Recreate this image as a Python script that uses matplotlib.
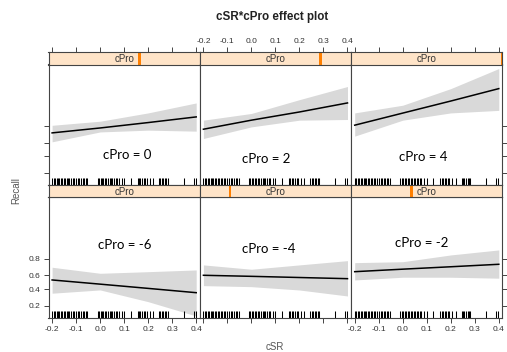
import numpy as np
import matplotlib.pyplot as plt
from matplotlib.ticker import NullLocator
from matplotlib.patches import Rectangle

# values (probability scale, logit axis)
csr = [-0.2, 0.0, 0.2, 0.4]
cpro = [-6, -4, -2, 0, 2, 4]

fit = {
    -6: [0.534, 0.472, 0.410, 0.350],
    -4: [0.602, 0.587, 0.570, 0.553],
    -2: [0.652, 0.685, 0.715, 0.744],
    0: [0.728, 0.782, 0.832, 0.874],
    2: [0.769, 0.851, 0.903, 0.941],
    4: [0.809, 0.897, 0.947, 0.974],
}
lower = {
    -6: [0.343, 0.388, 0.240, 0.119],
    -4: [0.450, 0.435, 0.387, 0.307],
    -2: [0.534, 0.574, 0.574, 0.560],
    0: [0.611, 0.739, 0.759, 0.748],
    2: [0.657, 0.793, 0.851, 0.856],
    4: [0.688, 0.851, 0.898, 0.911],
}
upper = {
    -6: [0.709, 0.630, 0.652, 0.675],
    -4: [0.737, 0.684, 0.737, 0.783],
    -2: [0.762, 0.772, 0.835, 0.872],
    0: [0.808, 0.843, 0.898, 0.941],
    2: [0.851, 0.895, 0.951, 0.977],
    4: [0.898, 0.933, 0.974, 0.992],
}

# observed cSR values (rug)
rug = [-0.200, -0.193, -0.188, -0.181, -0.175, -0.170, -0.163, -0.158, -0.152,
       -0.146, -0.140, -0.134, -0.128, -0.121, -0.115, -0.108, -0.100, -0.092,
       -0.086, -0.079, -0.072, -0.066, -0.060, -0.053,
       -0.010, -0.004, 0.002, 0.008, 0.014, 0.020, 0.026, 0.033, 0.040, 0.047,
       0.051, 0.058, 0.065, 0.072, 0.078, 0.090, 0.100, 0.128,
       0.156, 0.162, 0.168, 0.175, 0.181, 0.188, 0.194, 0.206, 0.220,
       0.245, 0.251, 0.257, 0.263, 0.270, 0.276, 0.281, 0.348, 0.390, 0.398]

xticks = [-0.2, -0.1, 0.0, 0.1, 0.2, 0.3, 0.4]
yticks = [0.2, 0.4, 0.6, 0.8]

W, H = 507, 352
fig = plt.figure(figsize=(W / 100, H / 100), dpi=100)
plt.rcParams['font.family'] = ['Liberation Sans', 'DejaVu Sans']

axcol = '#444444'
txtcol = '#333333'
x0 = 48.5
pw = 151.3
rows = {0: (52, 64.5, 185), 1: (185, 197, 318)}  # strip top, panel top, panel bottom
layout = [[0, 2, 4], [-6, -4, -2]]


def fx(px):
    return px / W


def fy(py):
    return 1 - py / H


for r in range(2):
    st, pt, pb = rows[r]
    for c in range(3):
        v = layout[r][c]
        left = x0 + c * pw
        ax = fig.add_axes([fx(left), fy(pb), pw / W, (pb - pt) / H])
        sx = fig.add_axes([fx(left), fy(pt), pw / W, (pt - st) / H])

        # band + fitted line
        ax.fill_between(csr, lower[v], upper[v], color='#d9d9d9', lw=0)
        ax.plot(csr, fit[v], color='black', lw=1.1)
        ax.vlines(rug, 0, 0.055, transform=ax.get_xaxis_transform(), color='black', lw=0.75)
        ax.set_yscale('logit')
        ax.yaxis.set_minor_locator(NullLocator())
        ax.set_xlim(-0.215, 0.415)
        ax.set_ylim(0.107, 0.9937)
        ax.set_xticks(xticks)
        ax.set_yticks(yticks)
        ax.set_yticklabels([str(t) for t in yticks])
        ax.set_xticklabels(['%.1f' % t for t in xticks])
        for s in ax.spines.values():
            s.set_color(axcol)
            s.set_linewidth(0.8)
        ax.tick_params(direction='out', length=3.5, width=0.7, color=axcol,
                       labelsize=6, labelcolor=txtcol, pad=2)
        ax.tick_params(axis='x', bottom=(r == 1), labelbottom=(r == 1 and c != 1))
        ax.tick_params(axis='y', left=(c == 0), labelleft=(c == 0 and r == 1),
                       right=(c == 2), labelright=False)

        # strip
        sx.set_xlim(-0.215, 0.415)
        sx.set_ylim(0, 1)
        sx.set_facecolor('#ffe4c8')
        frac = (v - min(cpro)) / (max(cpro) - min(cpro))
        sx.add_patch(Rectangle((frac - 0.009, 0), 0.018, 1, transform=sx.transAxes,
                               color='#ff7f00', lw=0, clip_on=True))
        sx.text(0.5, 0.45, 'cPro', transform=sx.transAxes, ha='center', va='center',
                fontsize=7, color=txtcol)
        for s in sx.spines.values():
            s.set_color(axcol)
            s.set_linewidth(0.8)
        sx.set_yticks([])
        sx.set_xticks(xticks)
        sx.set_xticklabels(['%.1f' % t for t in xticks])
        sx.tick_params(axis='x', direction='out', length=3.5, width=0.7, color=axcol,
                       bottom=False, labelbottom=False, top=(r == 0),
                       labeltop=(r == 0 and c == 1), labelsize=6, labelcolor=txtcol, pad=1.5)

# the hand-written labels on the panels
notes = [('cPro = 0', 126.7, 155), ('cPro = 2', 266, 159), ('cPro = 4', 423, 156.7),
         ('cPro = -6', 124.3, 245), ('cPro = -4', 269, 249.3), ('cPro = -2', 422, 243.3)]
for t, px, py in notes:
    fig.text(fx(px), fy(py), t, ha='center', va='center', fontsize=9.5,
             family=['Lato', 'DejaVu Sans'], color='black')

fig.text(fx(272), fy(17), 'cSR*cPro effect plot', ha='center', va='center',
         fontsize=8.4, fontweight='bold', color='#222222')
fig.text(fx(16), fy(191), 'Recall', rotation=90, ha='center', va='center',
         fontsize=7, color='#555555')
fig.text(fx(275), fy(347), 'cSR', ha='center', va='center', fontsize=7, color='#555555')

fig.savefig('out.png', dpi=100)
